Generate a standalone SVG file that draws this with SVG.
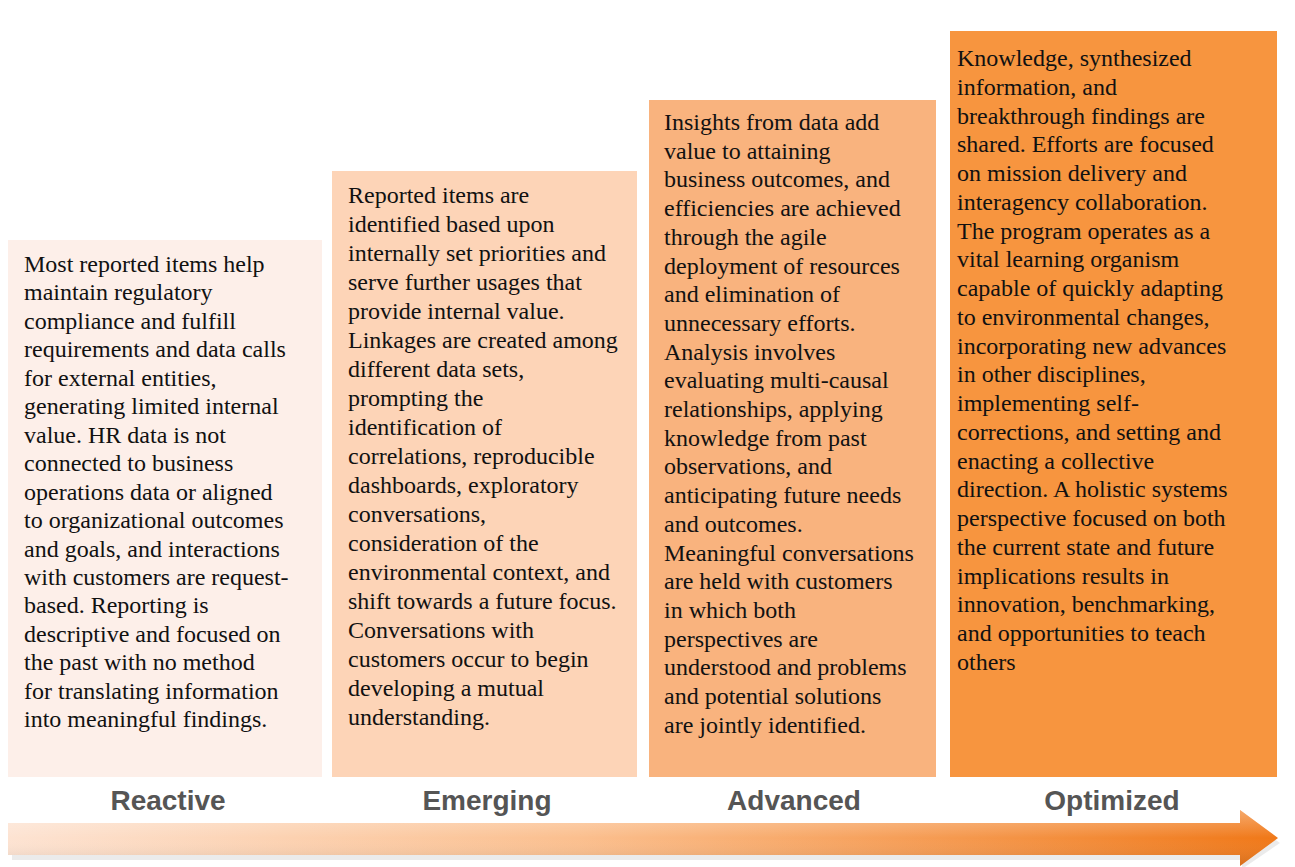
<svg xmlns="http://www.w3.org/2000/svg" width="1295" height="867" viewBox="0 0 1295 867">
<defs>
<style>
.t{font-family:'Liberation Serif','DejaVu Serif',serif;font-size:24px;fill:#111;}
.l{font-family:'Liberation Sans',Arial,sans-serif;font-size:28px;font-weight:bold;fill:#555;text-anchor:middle;}
</style>
<linearGradient id="arr" x1="0" y1="0" x2="1" y2="0">
<stop offset="0" stop-color="#fde3d2"/>
<stop offset="0.45" stop-color="#fbbf8e"/>
<stop offset="1" stop-color="#f07818"/>
</linearGradient>
<linearGradient id="arrv" x1="0" y1="0" x2="0" y2="1">
<stop offset="0" stop-color="#fff" stop-opacity="0.35"/>
<stop offset="0.5" stop-color="#fff" stop-opacity="0"/>
<stop offset="1" stop-color="#000" stop-opacity="0.12"/>
</linearGradient>
</defs>
<rect width="1295" height="867" fill="#fff"/>
<g id="reactive">
<rect x="8" y="240" width="314" height="537" fill="#fdefe9"/>
<text class="t" x="24" y="272">
<tspan x="24" dy="0">Most reported items help</tspan>
<tspan x="24" dy="28.45">maintain regulatory</tspan>
<tspan x="24" dy="28.45">compliance and fulfill</tspan>
<tspan x="24" dy="28.45">requirements and data calls</tspan>
<tspan x="24" dy="28.45">for external entities,</tspan>
<tspan x="24" dy="28.45">generating limited internal</tspan>
<tspan x="24" dy="28.45">value. HR data is not</tspan>
<tspan x="24" dy="28.45">connected to business</tspan>
<tspan x="24" dy="28.45">operations data or aligned</tspan>
<tspan x="24" dy="28.45">to organizational outcomes</tspan>
<tspan x="24" dy="28.45">and goals, and interactions</tspan>
<tspan x="24" dy="28.45">with customers are request-</tspan>
<tspan x="24" dy="28.45">based. Reporting is</tspan>
<tspan x="24" dy="28.45">descriptive and focused on</tspan>
<tspan x="24" dy="28.45">the past with no method</tspan>
<tspan x="24" dy="28.45">for translating information</tspan>
<tspan x="24" dy="28.45">into meaningful findings.</tspan>
</text>
<text class="l" x="168" y="810">Reactive</text>
</g>
<g id="emerging">
<rect x="332" y="171" width="305" height="606" fill="#fdd4b7"/>
<text class="t" x="348" y="203">
<tspan x="348" dy="0">Reported items are</tspan>
<tspan x="348" dy="29">identified based upon</tspan>
<tspan x="348" dy="29">internally set priorities and</tspan>
<tspan x="348" dy="29">serve further usages that</tspan>
<tspan x="348" dy="29">provide internal value.</tspan>
<tspan x="348" dy="29">Linkages are created among</tspan>
<tspan x="348" dy="29">different data sets,</tspan>
<tspan x="348" dy="29">prompting the</tspan>
<tspan x="348" dy="29">identification of</tspan>
<tspan x="348" dy="29">correlations, reproducible</tspan>
<tspan x="348" dy="29">dashboards, exploratory</tspan>
<tspan x="348" dy="29">conversations,</tspan>
<tspan x="348" dy="29">consideration of the</tspan>
<tspan x="348" dy="29">environmental context, and</tspan>
<tspan x="348" dy="29">shift towards a future focus.</tspan>
<tspan x="348" dy="29">Conversations with</tspan>
<tspan x="348" dy="29">customers occur to begin</tspan>
<tspan x="348" dy="29">developing a mutual</tspan>
<tspan x="348" dy="29">understanding.</tspan>
</text>
<text class="l" x="487" y="810">Emerging</text>
</g>
<g id="advanced">
<rect x="649" y="100" width="287" height="677" fill="#f9b37e"/>
<text class="t" x="664" y="130">
<tspan x="664" dy="0">Insights from data add</tspan>
<tspan x="664" dy="28.7">value to attaining</tspan>
<tspan x="664" dy="28.7">business outcomes, and</tspan>
<tspan x="664" dy="28.7">efficiencies are achieved</tspan>
<tspan x="664" dy="28.7">through the agile</tspan>
<tspan x="664" dy="28.7">deployment of resources</tspan>
<tspan x="664" dy="28.7">and elimination of</tspan>
<tspan x="664" dy="28.7">unnecessary efforts.</tspan>
<tspan x="664" dy="28.7">Analysis involves</tspan>
<tspan x="664" dy="28.7">evaluating multi-causal</tspan>
<tspan x="664" dy="28.7">relationships, applying</tspan>
<tspan x="664" dy="28.7">knowledge from past</tspan>
<tspan x="664" dy="28.7">observations, and</tspan>
<tspan x="664" dy="28.7">anticipating future needs</tspan>
<tspan x="664" dy="28.7">and outcomes.</tspan>
<tspan x="664" dy="28.7">Meaningful conversations</tspan>
<tspan x="664" dy="28.7">are held with customers</tspan>
<tspan x="664" dy="28.7">in which both</tspan>
<tspan x="664" dy="28.7">perspectives are</tspan>
<tspan x="664" dy="28.7">understood and problems</tspan>
<tspan x="664" dy="28.7">and potential solutions</tspan>
<tspan x="664" dy="28.7">are jointly identified.</tspan>
</text>
<text class="l" x="794" y="810">Advanced</text>
</g>
<g id="optimized">
<rect x="950" y="31" width="327" height="746" fill="#f7953f"/>
<text class="t" x="957" y="66">
<tspan x="957" dy="0">Knowledge, synthesized</tspan>
<tspan x="957" dy="28.76">information, and</tspan>
<tspan x="957" dy="28.76">breakthrough findings are</tspan>
<tspan x="957" dy="28.76">shared. Efforts are focused</tspan>
<tspan x="957" dy="28.76">on mission delivery and</tspan>
<tspan x="957" dy="28.76">interagency collaboration.</tspan>
<tspan x="957" dy="28.76">The program operates as a</tspan>
<tspan x="957" dy="28.76">vital learning organism</tspan>
<tspan x="957" dy="28.76">capable of quickly adapting</tspan>
<tspan x="957" dy="28.76">to environmental changes,</tspan>
<tspan x="957" dy="28.76">incorporating new advances</tspan>
<tspan x="957" dy="28.76">in other disciplines,</tspan>
<tspan x="957" dy="28.76">implementing self-</tspan>
<tspan x="957" dy="28.76">corrections, and setting and</tspan>
<tspan x="957" dy="28.76">enacting a collective</tspan>
<tspan x="957" dy="28.76">direction. A holistic systems</tspan>
<tspan x="957" dy="28.76">perspective focused on both</tspan>
<tspan x="957" dy="28.76">the current state and future</tspan>
<tspan x="957" dy="28.76">implications results in</tspan>
<tspan x="957" dy="28.76">innovation, benchmarking,</tspan>
<tspan x="957" dy="28.76">and opportunities to teach</tspan>
<tspan x="957" dy="28.76">others</tspan>
</text>
<text class="l" x="1112" y="810">Optimized</text>
</g>
<g id="connectors">
<path d="M10,826 L1240,826 L1240,813 L1278,840 L1240,866 L1240,857 L10,857 Z" fill="#000" opacity="0.08" transform="translate(2,3)"/>
<path d="M8,823 L1240,823 L1240,810 L1278,838 L1240,866 L1240,855 L8,855 Z" fill="url(#arr)"/>
<path d="M8,823 L1240,823 L1240,810 L1278,838 L1240,866 L1240,855 L8,855 Z" fill="url(#arrv)"/>
</g>
</svg>
